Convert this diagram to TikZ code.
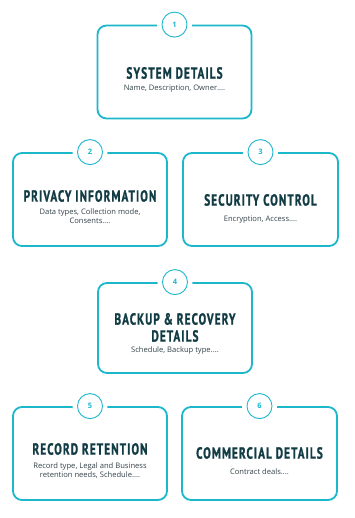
\documentclass[tikz,border=0pt]{standalone}
\usepackage{fontspec}
\setmainfont{Open Sans}
\newfontfamily\titlefont[FakeStretch=0.7,LetterSpace=7,FakeBold=1.2]{PT Sans}
\definecolor{cyanc}{HTML}{1BB8CC}
\definecolor{darkt}{HTML}{123C44}
\definecolor{greyt}{HTML}{34434A}
\tikzset{
  card/.style={draw=cyanc, line width=1.8pt, rounded corners=9pt, fill=white, minimum width=154pt, minimum height=93pt, inner sep=0pt},
  gap/.style={circle, fill=white, minimum size=35pt, inner sep=0pt},
  num/.style={circle, draw=cyanc, line width=0.9pt, fill=white, minimum size=25pt, inner sep=0pt, text=cyanc, font=\fontsize{7.5}{8}\selectfont\bfseries},
  ttl/.style={text=darkt, font=\titlefont\bfseries\fontsize{16}{17}\selectfont, align=center, inner sep=0pt},
  sub/.style={text=greyt, font=\fontsize{7.6}{9}\selectfont, align=center, inner sep=0pt}
}
\begin{document}
\begin{tikzpicture}[x=1pt,y=-1pt]
\useasboundingbox[fill=white] (0,0) rectangle (355,518);
% boxes
\node[card] (b1) at (174.5,72) {};
\node[card] (b2) at (90,199.5) {};
\node[card, minimum width=155pt] (b3) at (260.5,199.5) {};
\node[card, minimum height=90pt] (b4) at (175,328) {};
\node[card] (b5) at (90,453.5) {};
\node[card, minimum width=155pt] (b6) at (259.5,453.5) {};
% number badges
\foreach \n/\b in {1/b1,2/b2,3/b3,4/b4,5/b5,6/b6}{
  \node[gap] (g\n) at (\b.north) {};
  \node[num] (n\n) at (\b.north) {\n};
}
% texts
\node[ttl] (t1) at (174.5,73) {SYSTEM DETAILS};
\node[sub] (s1) at (174.5,89) {Name, Description, Owner....};
\node[ttl] (t2) at (90,196) {PRIVACY INFORMATION};
\node[sub] (s2) at (90,216) {Data types, Collection mode,\\Consents....};
\node[ttl] (t3) at (260.5,200) {SECURITY CONTROL};
\node[sub] (s3) at (260.5,220) {Encryption, Access....};
\node[ttl] (t4) at (175,327.5) {BACKUP \& RECOVERY\\DETAILS};
\node[sub] (s4) at (175,351) {Schedule, Backup type....};
\node[ttl] (t5) at (90,449) {RECORD RETENTION};
\node[sub] (s5) at (90,470.5) {Record type, Legal and Business\\retention needs, Schedule....};
\node[ttl] (t6) at (259.5,453) {COMMERCIAL DETAILS};
\node[sub] (s6) at (259.5,472) {Contract deals....};
\end{tikzpicture}
\end{document}
